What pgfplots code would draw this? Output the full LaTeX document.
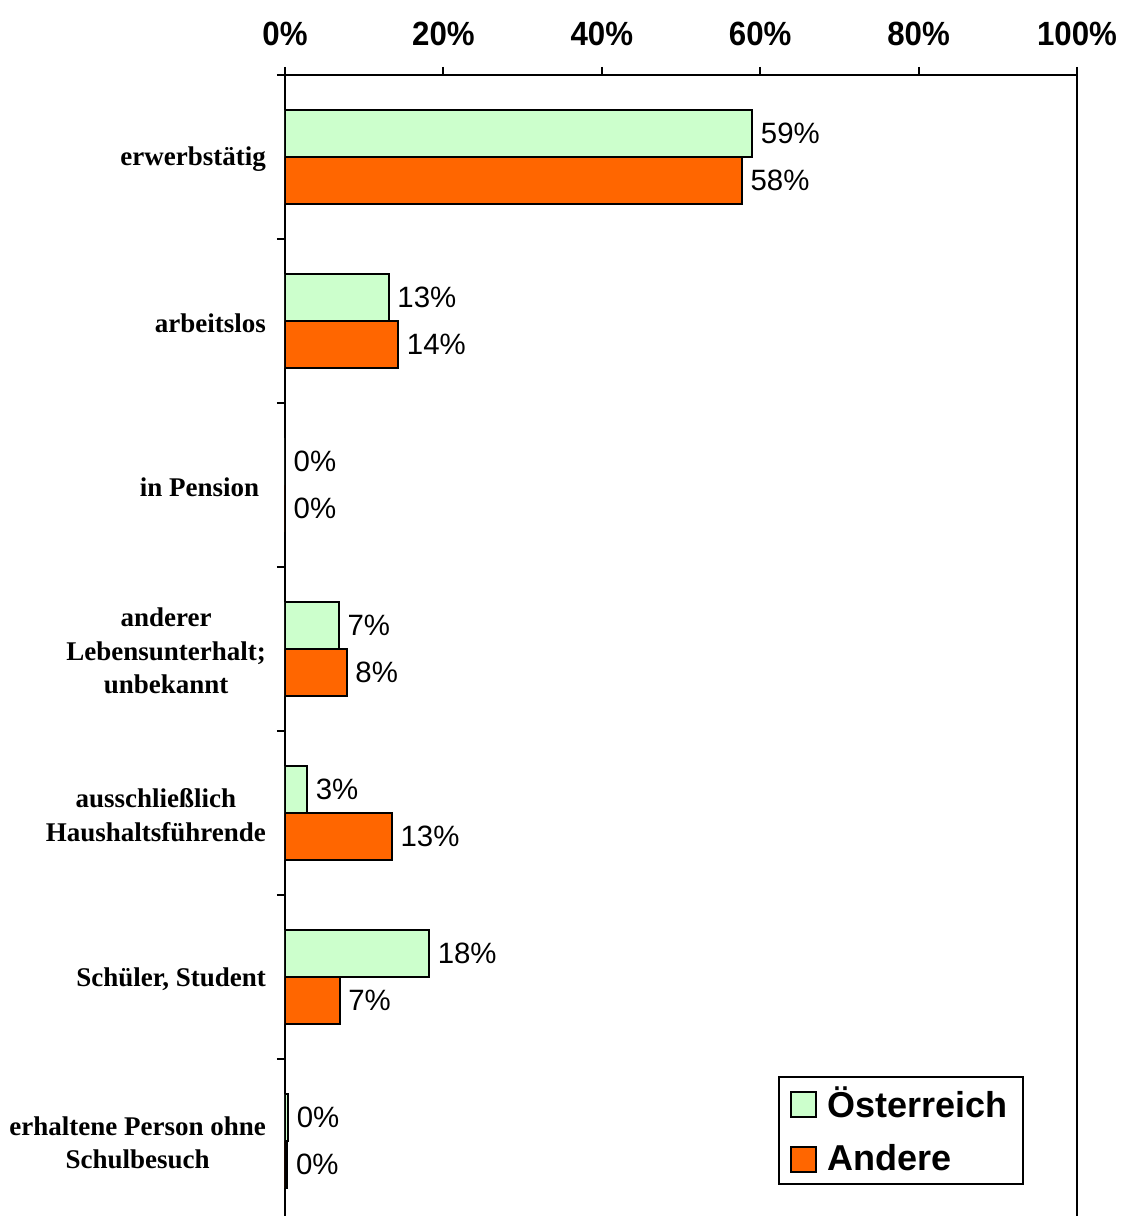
\documentclass[border=0pt]{standalone}
\usepackage{pgfplots}
\pgfplotsset{compat=1.18}
\usepackage{pgfplotstable}
\usepackage{fontspec}
\setmainfont{Liberation Sans}
\newfontfamily\timesf{Liberation Serif}
\newfontfamily\ticksf{Liberation Sans}[FakeStretch=0.93]
\definecolor{aut}{HTML}{CCFFCC}
\definecolor{oth}{HTML}{FF6600}

\pgfplotstableread{
cat aut autl oth othl
0 59.0 59 57.7 58
1 13.1 13 14.3 14
2 0.0  0  0.0  0
3 6.8  7  7.8  8
4 2.8  3  13.5 13
5 18.2 18 6.9  7
6 0.4  0  0.3  0
}\data

\begin{document}
\begin{tikzpicture}
\begin{axis}[
  scale only axis, width=396pt, height=570.5pt,
  xbar,
  xmin=0, xmax=100, ymin=-0.5, ymax=6.4573, y dir=reverse,
  axis x line=top, axis y line=box, axis line style={-, line width=1pt},
  tick align=outside, major tick length=4pt, minor tick length=4pt,
  every tick/.style={black, line width=1pt},
  xtick={0,20,...,100},
  xticklabel={\pgfmathprintnumber{\tick}\%},
  /pgf/number format/assume math mode=true,
  xticklabel style={font=\ticksf\bfseries\fontsize{16.8}{18}\selectfont, yshift=7pt},
  ytick={0,...,6}, ytick pos=left,
  major y tick style={draw=none},
  minor ytick={-0.5,0.5,...,5.5},
  yticklabels={erwerbstätig, arbeitslos, {in Pension\ }, {anderer\\Lebensunterhalt;\hspace*{3.3pt}\\unbekannt}, {ausschließlich\\Haushaltsführende}, {Schüler, Student}, {erhaltene Person ohne\\Schulbesuch}},
  yticklabel style={font=\timesf\bfseries\fontsize{13.5}{16.75}\selectfont, align=center, xshift=-2pt, yshift=-1pt},
  nodes near coords={\pgfmathprintnumber{\pgfplotspointmeta}\%},
  nodes near coords style={font=\fontsize{14.7}{16}\selectfont, anchor=west, text=black, xshift=0.5pt},
  point meta=explicit,
  legend image code/.code={\draw[#1] (0pt,-6.25pt) rectangle (12.5pt,6.25pt); \path (16pt,0pt);},
  legend style={at={(axis description cs:0.933,0.0272)}, anchor=south east, draw=black, line width=1pt,
    font=\bfseries\fontsize{18}{20}\selectfont, row sep=8pt, inner xsep=5.5pt, inner ysep=3pt},
  legend cell align=left,
]
\addplot[fill=aut, draw=black, line width=1pt, bar width=0.2866, bar shift=-0.1433]
  table[x=aut, y=cat, meta=autl] {\data};
\addplot[fill=oth, draw=black, line width=1pt, bar width=0.2866, bar shift=0.1433]
  table[x=oth, y=cat, meta=othl] {\data};
\legend{Österreich, Andere}
\end{axis}
\pgfresetboundingbox
\path[use as bounding box] ([xshift=-142.5pt,yshift=37.5pt]current axis.north west) rectangle ([xshift=24pt]current axis.south east);
\end{tikzpicture}
\end{document}
